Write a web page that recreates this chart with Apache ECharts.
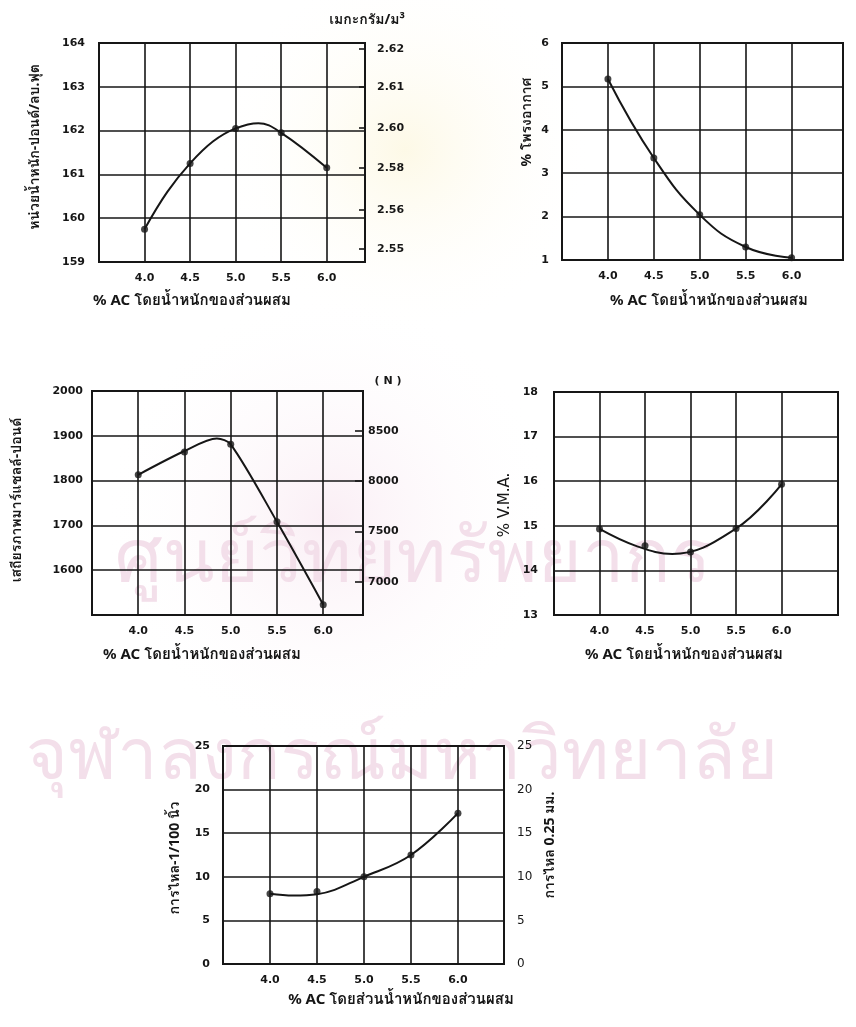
<!DOCTYPE html>
<html><head><meta charset="utf-8">
<script src="https://cdn.jsdelivr.net/npm/echarts@6/dist/echarts.min.js"></script>
<style>html,body{margin:0;padding:0;background:#fff}#c{width:856px;height:1027px}</style>
</head><body><div id="c"></div>
<script>
const acPercent = [4.0, 4.5, 5.0, 5.5, 6.0];
const xTickLabels = ['4.0', '4.5', '5.0', '5.5', '6.0'];
const unitWeightPcf = [159.75, 161.25, 162.05, 161.95, 161.15];
const airVoidsPct = [5.17, 3.35, 2.04, 1.30, 1.05];
const stabilityLb = [1813, 1864, 1881, 1708, 1523];
const vmaPct = [14.93, 14.55, 14.41, 14.94, 15.93];
const flowUnits = [8.05, 8.3, 10.0, 12.5, 17.3];

// ---- hand-drawn curve traces ----
const unitWeightCurveX = [4.0, 4.25, 4.5, 4.75, 5.0, 5.25, 5.5, 6.0];
const unitWeightCurveY = [159.75, 160.6, 161.25, 161.75, 162.05, 162.17, 161.95, 161.15];
const airVoidsCurveX = [4.0, 4.5, 5.0, 5.5, 6.0];
const airVoidsCurveY = [5.17, 3.35, 2.04, 1.30, 1.05];
const stabilityCurveX = [4.0, 4.5, 4.85, 5.0, 5.5, 6.0];
const stabilityCurveY = [1813, 1866, 1894, 1881, 1708, 1523];
const vmaCurveX = [4.0, 4.4, 4.8, 5.5, 6.0];
const vmaCurveY = [14.93, 14.55, 14.37, 14.94, 15.93];
const flowCurveX = [4.0, 4.25, 4.5, 5.0, 5.5, 6.0];
const flowCurveY = [8.05, 7.85, 8.0, 10.0, 12.5, 17.3];

const densityTickLabels = ['2.62', '2.61', '2.60', '2.58', '2.56', '2.55'];
const densityTickAt = [163.86, 163.0, 162.06, 161.15, 160.19, 159.3];
const newtonTicks = [7000, 7500, 8000, 8500];
const LB_TO_N = 4.448;

const xTitle = '% AC โดยน้ำหนักของส่วนผสม';
const xTitle5 = '% AC โดยส่วนน้ำหนักของส่วนผสม';

// ---- styling / layout ----
const INK = '#161616';
const NUM_FONT = 'DejaVu Sans';
const THAI_FONT = 'Noto Sans, Loma, Garuda, Waree, sans-serif';

const grids = [
  {left: 99, top: 43, width: 266, height: 219},
  {left: 562, top: 43, width: 281, height: 217},
  {left: 92, top: 391, width: 271, height: 224},
  {left: 554, top: 392, width: 284, height: 223},
  {left: 223, top: 746, width: 281, height: 218}
];
const xMax = [6.42, 6.56, 6.43, 6.62, 6.49];
const yCfg = [
  {min: 159, max: 164, interval: 1, margin: 14},
  {min: 1, max: 6, interval: 1, margin: 13},
  {min: 1500, max: 2000, interval: 100, margin: 9, hideMin: true},
  {min: 13, max: 18, interval: 1, margin: 16},
  {min: 0, max: 25, interval: 5, margin: 13}
];
const pointSets = [unitWeightPcf, airVoidsPct, stabilityLb, vmaPct, flowUnits];
const curveSets = [
  [unitWeightCurveX, unitWeightCurveY],
  [airVoidsCurveX, airVoidsCurveY],
  [stabilityCurveX, stabilityCurveY],
  [vmaCurveX, vmaCurveY],
  [flowCurveX, flowCurveY]
];
const curveSmooth = [0.4, 0.45, 0.3, 0.4, 0.4];

const labelStyle = {color: INK, fontFamily: NUM_FONT, fontWeight: 'bold', fontSize: 11};
const gridLine = {color: INK, width: 1.6, type: 'solid'};

const option = {
  backgroundColor: '#ffffff',
  animation: false,
  grid: grids.map(g => Object.assign({show: true, borderColor: INK, borderWidth: 2, backgroundColor: 'transparent', z: 3}, g)),
  xAxis: grids.map((g, i) => ({
    type: 'value', gridIndex: i, min: 3.5, max: xMax[i],
    axisLine: {show: false}, axisTick: {show: false},
    splitLine: {show: false},
    axisLabel: Object.assign({}, labelStyle, {
      margin: 11, customValues: acPercent,
      formatter: v => { const k = acPercent.findIndex(a => Math.abs(a - v) < 1e-6); return k >= 0 ? xTickLabels[k] : ''; }
    })
  })),
  yAxis: [],
  series: [],
  graphic: []
};

yCfg.forEach((c, i) => {
  option.yAxis.push({
    type: 'value', gridIndex: i, min: c.min, max: c.max, interval: c.interval,
    axisLine: {show: false}, axisTick: {show: false},
    splitLine: {show: true, lineStyle: gridLine},
    axisLabel: Object.assign({}, labelStyle, {
      margin: c.margin,
      formatter: v => (c.hideMin && v === c.min) ? '' : String(v)
    })
  });
});
// right axis, chart 1 : density
option.yAxis.push({
  type: 'value', gridIndex: 0, position: 'right', min: 159, max: 164,
  axisLine: {show: false}, splitLine: {show: false},
  axisTick: {show: true, inside: true, length: 6, customValues: densityTickAt, lineStyle: {color: INK, width: 1.6}},
  axisLabel: Object.assign({}, labelStyle, {
    margin: 12, customValues: densityTickAt,
    formatter: v => { let k = 0, d = 1e9; densityTickAt.forEach((t, j) => { if (Math.abs(t - v) < d) { d = Math.abs(t - v); k = j; } }); return densityTickLabels[k]; }
  })
});
// right axis, chart 3 : newton
option.yAxis.push({
  type: 'value', gridIndex: 2, position: 'right', min: 1500 * LB_TO_N, max: 2000 * LB_TO_N,
  axisLine: {show: false}, splitLine: {show: false},
  axisTick: {show: true, inside: true, length: 8, customValues: newtonTicks, lineStyle: {color: INK, width: 1.6}},
  axisLabel: Object.assign({}, labelStyle, {margin: 5, customValues: newtonTicks, formatter: v => String(v)})
});
// right axis, chart 5 : flow mm
option.yAxis.push({
  type: 'value', gridIndex: 4, position: 'right', min: 0, max: 25, interval: 5,
  axisLine: {show: false}, splitLine: {show: false}, axisTick: {show: false},
  axisLabel: Object.assign({}, labelStyle, {margin: 13, fontWeight: 'normal', fontSize: 12})
});

pointSets.forEach((arr, i) => {
  const cx = curveSets[i][0], cy = curveSets[i][1];
  option.series.push({
    type: 'line', xAxisIndex: i, yAxisIndex: i, smooth: curveSmooth[i],
    data: cx.map((x, j) => [x, cy[j]]),
    symbol: 'none', lineStyle: {color: INK, width: 2}, z: 5, silent: true
  });
  option.series.push({
    type: 'scatter', xAxisIndex: i, yAxisIndex: i,
    data: acPercent.map((x, j) => [x, arr[j]]),
    symbol: 'circle', symbolSize: 7, itemStyle: {color: INK}, z: 6,
    markLine: {
      silent: true, symbol: ['none', 'none'], label: {show: false},
      lineStyle: gridLine, animation: false,
      data: acPercent.map(x => ({xAxis: x}))
    }
  });
});

function txt(x, y, text, opts) {
  return Object.assign({
    type: 'text', x: x, y: y, z: 10,
    style: Object.assign({text: text, fill: INK, font: 'bold 15px ' + THAI_FONT, textAlign: 'center', textVerticalAlign: 'middle'}, opts && opts.style || {})
  }, opts && opts.el || {});
}
const ROT = Math.PI / 2;
option.graphic = [
  // faint watermark
  {type: 'circle', shape: {cx: 405, cy: 150, r: 190}, z: -20, silent: true,
    style: {fill: new echarts.graphic.RadialGradient(0.5, 0.5, 0.5, [{offset: 0, color: 'rgba(250,238,185,0.35)'}, {offset: 1, color: 'rgba(255,255,255,0)'}])}},
  {type: 'circle', shape: {cx: 330, cy: 520, r: 230}, z: -20, silent: true,
    style: {fill: new echarts.graphic.RadialGradient(0.5, 0.5, 0.5, [{offset: 0, color: 'rgba(246,224,236,0.55)'}, {offset: 1, color: 'rgba(255,255,255,0)'}])}},
  txt(413, 560, 'ศูนย์วิทยทรัพยากร', {style: {fill: '#f3dfea', font: '76px ' + THAI_FONT}, el: {z: -10}}),
  txt(402, 758, 'จุฬาลงกรณ์มหาวิทยาลัย', {style: {fill: '#f3dfea', font: '72px ' + THAI_FONT}, el: {z: -10}}),
  // x titles
  txt(192, 301, xTitle),
  txt(709, 301, xTitle),
  txt(202, 655, xTitle),
  txt(684, 655, xTitle),
  txt(401, 1000, xTitle5),
  // y titles
  txt(35, 147, 'หน่วยน้ำหนัก-ปอนด์/ลบ.ฟุต', {el: {rotation: ROT}, style: {font: 'bold 14px ' + THAI_FONT}}),
  txt(527, 122, '% โพรงอากาศ', {el: {rotation: ROT}, style: {font: 'bold 14px ' + THAI_FONT}}),
  txt(17, 500, 'เสถียรภาพมาร์แชลล์-ปอนด์', {el: {rotation: ROT}, style: {font: 'bold 14px ' + THAI_FONT}}),
  txt(505, 505, '% V.M.A.', {el: {rotation: ROT}, style: {font: '15px ' + NUM_FONT}}),
  txt(175, 858, 'การไหล-1/100 นิ้ว', {el: {rotation: ROT}, style: {font: 'bold 14px ' + THAI_FONT}}),
  txt(550, 845, 'การไหล 0.25 มม.', {el: {rotation: ROT}, style: {font: 'bold 14px ' + THAI_FONT}}),
  // right axis titles
  txt(367, 20, 'เมกะกรัม/ม³', {style: {font: 'bold 14px ' + THAI_FONT}}),
  txt(388, 381, '( N )', {style: {font: 'bold 11px ' + NUM_FONT}})
];

const chart = echarts.init(document.getElementById('c'), null, {renderer: 'canvas'});
chart.setOption(option);
</script>
</body></html>
